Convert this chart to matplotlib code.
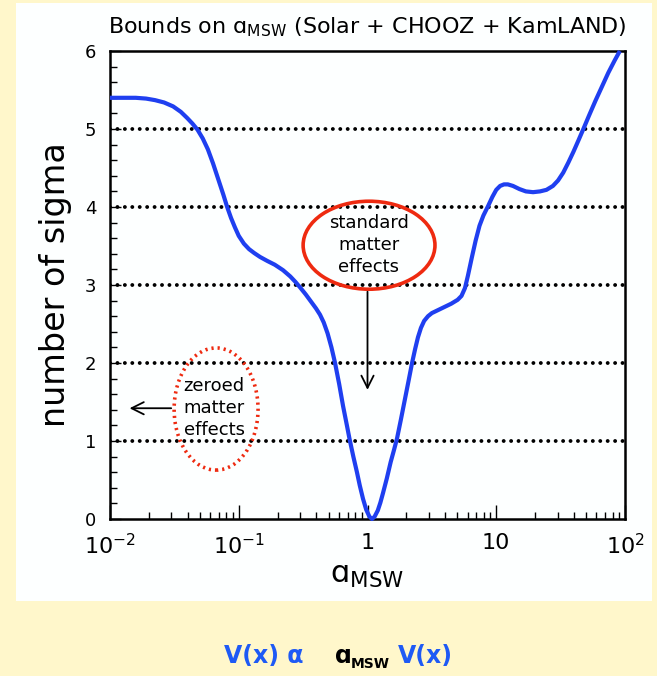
import matplotlib
matplotlib.use("Agg")
import matplotlib.pyplot as plt
import numpy as np
from matplotlib.patches import Ellipse, Rectangle
from matplotlib.ticker import FixedLocator, FixedFormatter

# chi-square profile vs. log10(a_MSW), read as (log10 a, number of sigma)
log_a = [-2.00, -1.90, -1.80, -1.72, -1.65, -1.58, -1.51, -1.45, -1.40, -1.36,
         -1.32, -1.28, -1.24, -1.20, -1.16, -1.12, -1.09, -1.06, -1.03, -1.00,
         -0.96, -0.92, -0.88, -0.835, -0.78, -0.72, -0.656, -0.60, -0.56, -0.524,
         -0.48, -0.44, -0.40, -0.369, -0.34, -0.31, -0.28, -0.252, -0.22, -0.19,
         -0.16, -0.14, -0.11, -0.082, -0.06, -0.035, -0.01, 0.015, 0.035, 0.055,
         0.08, 0.10, 0.12, 0.15, 0.18, 0.205, 0.229, 0.26, 0.29, 0.32,
         0.346, 0.37, 0.392, 0.415, 0.44, 0.47, 0.50, 0.55, 0.60, 0.65,
         0.70, 0.73, 0.757, 0.78, 0.81, 0.84, 0.87, 0.90, 0.936, 0.97,
         1.00, 1.03, 1.06, 1.09, 1.13, 1.18, 1.23, 1.286, 1.34, 1.39,
         1.44, 1.48, 1.52, 1.56, 1.60, 1.64, 1.674, 1.72, 1.77, 1.82,
         1.87, 1.92, 1.96]
n_sigma = [5.40, 5.40, 5.40, 5.39, 5.37, 5.34, 5.29, 5.22, 5.14, 5.07,
           4.99, 4.88, 4.74, 4.56, 4.36, 4.16, 4.00, 3.86, 3.74, 3.63,
           3.53, 3.46, 3.41, 3.36, 3.31, 3.26, 3.19, 3.11, 3.04, 2.97,
           2.88, 2.79, 2.70, 2.62, 2.52, 2.38, 2.20, 2.00, 1.73, 1.45,
           1.20, 1.03, 0.80, 0.60, 0.43, 0.26, 0.12, 0.03, 0.00, 0.03,
           0.11, 0.21, 0.33, 0.52, 0.73, 0.88, 1.03, 1.28, 1.53, 1.78,
           2.00, 2.18, 2.33, 2.45, 2.54, 2.60, 2.64, 2.68, 2.72, 2.76,
           2.81, 2.86, 2.96, 3.12, 3.35, 3.57, 3.76, 3.89, 4.01, 4.13,
           4.22, 4.27, 4.29, 4.29, 4.27, 4.23, 4.20, 4.19, 4.20, 4.22,
           4.27, 4.34, 4.44, 4.57, 4.71, 4.86, 4.99, 5.17, 5.36, 5.54,
           5.72, 5.88, 6.00]

sigma_levels = [1, 2, 3, 4, 5]
xtick_vals = [0.01, 0.1, 1, 10, 100]
xtick_labels = [r"$10^{-2}$", r"$10^{-1}$", "1", "10", r"$10^{2}$"]

W, H = 657, 676
fig = plt.figure(figsize=(W / 100, H / 100), dpi=100)
fig.patch.set_facecolor("#fff7cb")
fig.patches.append(Rectangle((16 / W, 1 - 601 / H), (652 - 16) / W, (601 - 3) / H,
                             transform=fig.transFigure, facecolor="#fdffff",
                             edgecolor="none", zorder=-5))

ax = fig.add_axes([110 / W, 1 - 519 / H, 515 / W, 468 / H])
ax.set_facecolor("#fdffff")
ax.set_xscale("log")
ax.set_xlim(0.01, 100)
ax.set_ylim(0, 6)

# dotted sigma levels
for lv in sigma_levels:
    ax.plot([0.01, 100], [lv, lv], color="black", lw=2.8,
            linestyle=(0, (0.01, 1.9)), dash_capstyle="round", zorder=2)

ax.plot(10 ** np.array(log_a), n_sigma, color="#1f3ff0", lw=3.0, zorder=3,
        clip_on=False, solid_capstyle="butt", solid_joinstyle="round")

for s in ax.spines.values():
    s.set_linewidth(1.8)

ax.xaxis.set_major_locator(FixedLocator(xtick_vals))
ax.xaxis.set_major_formatter(FixedFormatter(xtick_labels))
ax.xaxis.set_minor_locator(FixedLocator(
    [m * 10.0 ** e for e in range(-2, 2) for m in range(2, 10)]))
ax.xaxis.set_minor_formatter(FixedFormatter([]))
ax.set_yticks(range(0, 7))
ax.yaxis.set_minor_locator(FixedLocator(np.arange(0, 6.01, 0.2)))

ax.tick_params(axis="x", which="major", direction="in", length=10, width=1,
               labelsize=16, pad=10, top=False)
ax.tick_params(axis="x", which="minor", direction="in", length=5, width=1, top=False)
ax.tick_params(axis="y", which="major", direction="in", length=8, width=1,
               labelsize=13, pad=10, right=False)
ax.tick_params(axis="y", which="minor", direction="in", length=5, width=1, right=False)

ax.set_xlabel(r"$\mathrm{ɑ}_{\mathrm{MSW}}$", fontsize=22, labelpad=2)
ax.set_ylabel("number of sigma", fontsize=24, labelpad=9)
ax.set_title(r"Bounds on $\mathrm{ɑ}_{\mathrm{MSW}}$ (Solar + CHOOZ + KamLAND)",
             fontsize=16, pad=13)

# standard matter effects
ax.add_patch(Ellipse((0.503, 0.585), 0.256, 0.188, transform=ax.transAxes,
                     fill=False, edgecolor="#ee2a10", lw=2.6, zorder=4))
ax.text(0.502, 0.585, "standard\nmatter\neffects", transform=ax.transAxes,
        ha="center", va="center", fontsize=13, linespacing=1.3, zorder=5)
ax.annotate("", xy=(1.0, 1.62), xytext=(1.0, 2.95),
            arrowprops=dict(arrowstyle="->", color="black", lw=1.3,
                            mutation_scale=22))

# zeroed matter effects
ax.add_patch(Ellipse((0.206, 0.235), 0.163, 0.261, transform=ax.transAxes,
                     fill=False, edgecolor="#ee2a10", lw=2.6,
                     linestyle=(0, (0.6, 1.1)), zorder=4))
ax.text(0.202, 0.237, "zeroed\nmatter\neffects", transform=ax.transAxes,
        ha="center", va="center", fontsize=13, linespacing=1.3, zorder=5)
ax.annotate("", xy=(0.0135, 1.42), xytext=(0.0314, 1.42),
            arrowprops=dict(arrowstyle="->", color="black", lw=1.3,
                            mutation_scale=22))

# relation below the frame
fy = 1 - 656 / H
fig.text(224 / W, fy, "V(x) α", color="#1e5af5", fontsize=17,
         fontweight="bold", va="center")
fig.text(335 / W, fy, "ɑ", color="black", fontsize=17, fontweight="bold",
         va="center")
fig.text(351 / W, fy - 8 / H, "MSW", color="black", fontsize=10,
         fontweight="bold", va="center")
fig.text(398 / W, fy, "V(x)", color="#1e5af5", fontsize=17,
         fontweight="bold", va="center")

fig.savefig("out.png", dpi=100, facecolor=fig.get_facecolor())
